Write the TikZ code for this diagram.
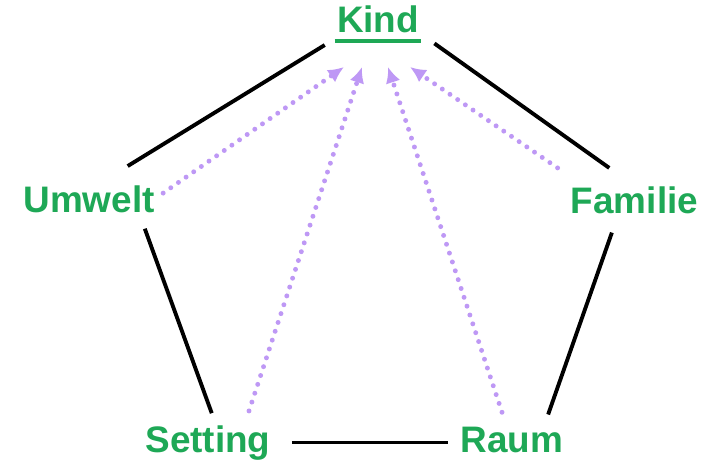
\documentclass[tikz,border=0pt]{standalone}
\usepackage{fontspec}
\setmainfont{Liberation Sans}
\usepackage{tikz}
\usetikzlibrary{arrows.meta, positioning, calc}
\usepackage{xcolor}
\definecolor{kindgruen}{RGB}{30,168,86}
\definecolor{pfeillila}{RGB}{190,152,245}

\tikzset{
	begriff/.style={font=\bfseries\fontsize{21}{25}\selectfont, text=kindgruen, inner sep=0pt, anchor=base},
	kante/.style={line width=2.2pt, black},
	einfluss/.style={line width=2.8pt, pfeillila, line cap=round, dash pattern=on 0pt off 5.3pt,
		-{Latex[length=9pt, width=8.5pt]}}
}

\begin{document}
\begin{tikzpicture}[x=0.02cm, y=-0.02cm]
			\fill[white] (0,0) rectangle (710,463);

			% Begriffe
			\node[begriff] (kind) at (378,32) {Kind};
			\node[begriff] (umwelt) at (89,212) {Umwelt};
			\node[begriff] (familie) at (634.5,213) {Familie};
			\node[begriff] (setting) at (208,452) {Setting};
			\node[begriff] (raum) at (512,452) {Raum};
			\draw[kindgruen, line width=1.8pt] ([shift={(-2,9)}]kind.base west) -- ([shift={(2,9)}]kind.base east);

			% Fuenfeck
			\draw[kante, shorten <=0.28cm, shorten >=0.72cm] ([shift={(0,5)}]kind.south west) -- ([shift={(8,0)}]umwelt.north);
			\draw[kante, shorten <=0.37cm, shorten >=0.62cm] (kind.south east) -- (familie.north);
			\draw[kante, shorten <=0.34cm, shorten >=0.25cm] ([shift={(50,0)}]umwelt.south) -- ([shift={(8,0)}]setting.north);
			\draw[kante, shorten <=0.40cm, shorten >=0.25cm] ([shift={(-16,0)}]familie.south) -- ([shift={(32,0)}]raum.north);
			\draw[kante, shorten <=0.42cm, shorten >=0.24cm] (setting.east) -- (raum.west |- setting.east);

			% Pfeile zum Kind
			\coordinate (k1) at (344,67);
			\coordinate (k2) at (362,67);
			\coordinate (k3) at (388,67);
			\coordinate (k4) at (410,67);
			\draw[einfluss, shorten <=0.2cm] (umwelt.east) -- (k1);
			\draw[einfluss] ([shift={(41,-14)}]setting.north) -- (k2);
			\draw[einfluss] ([shift={(-10,-14)}]raum.north) -- (k3);
			\draw[einfluss] ([shift={(-13,-18)}]familie.north west) -- (k4);
		\end{tikzpicture}
\end{document}
